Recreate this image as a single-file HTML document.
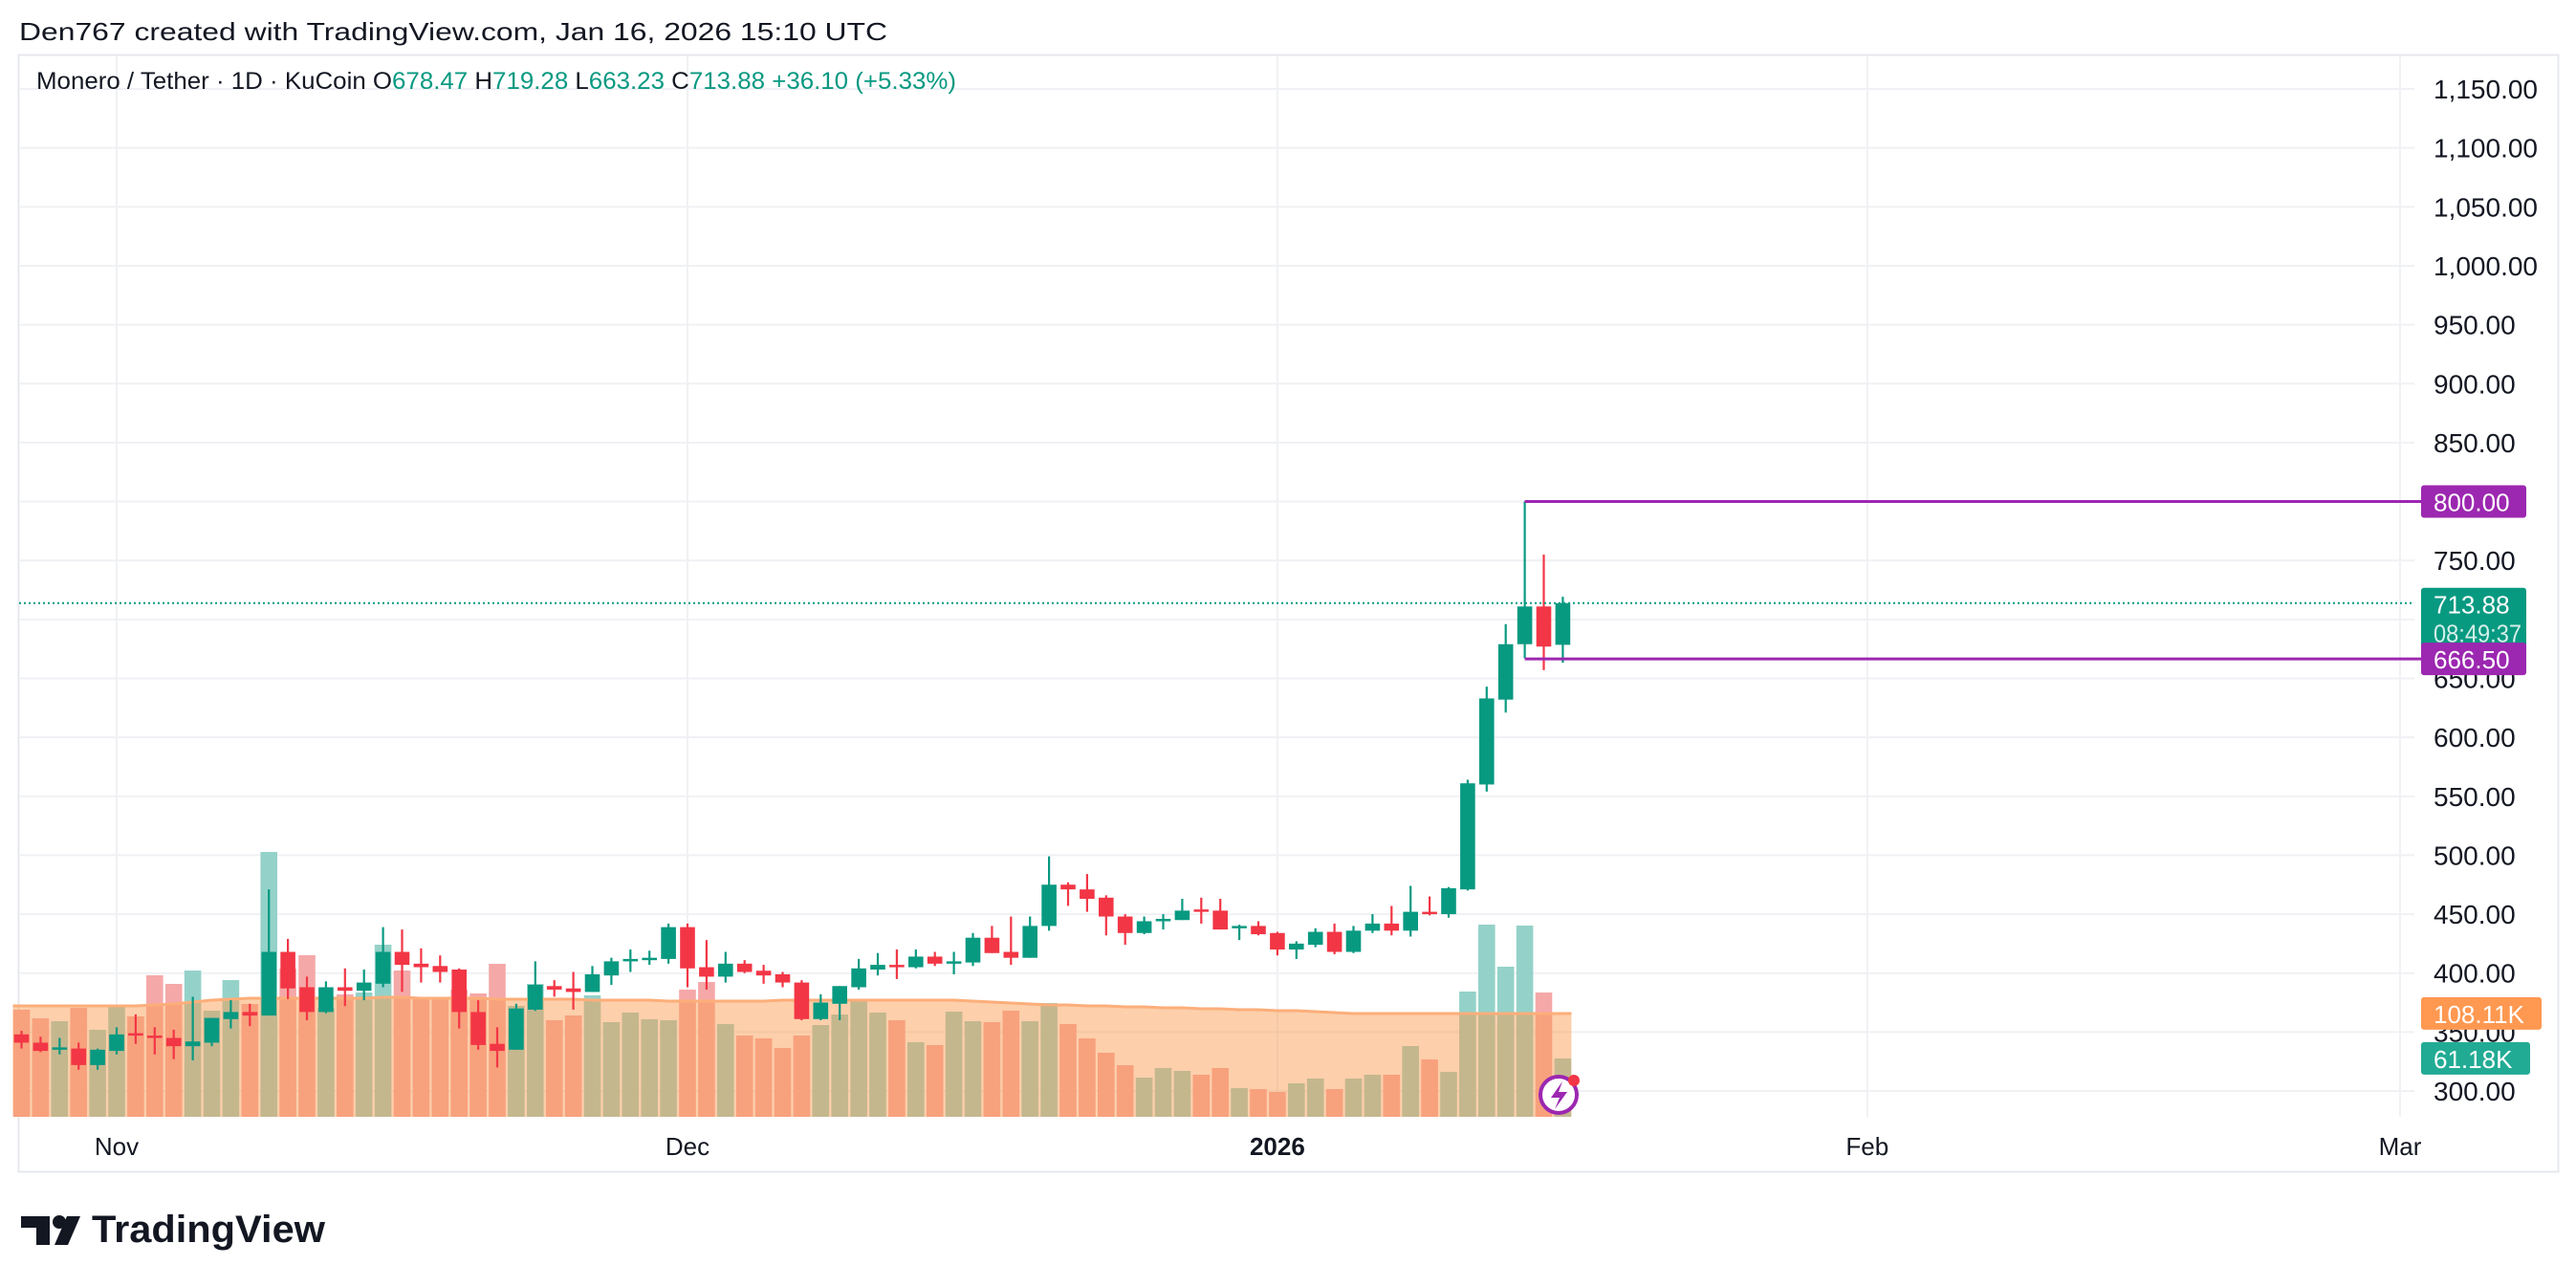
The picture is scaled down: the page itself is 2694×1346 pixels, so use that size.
<!DOCTYPE html>
<html><head><meta charset="utf-8"><style>
html,body{margin:0;padding:0;background:#fff;}
svg{display:block;}
text{font-family:"Liberation Sans",sans-serif;}
</style></head><body>
<svg id="chart" width="2694" height="1346" viewBox="0 0 2694 1346" xmlns="http://www.w3.org/2000/svg">
<rect width="2694" height="1346" fill="#ffffff"/>
<text x="20" y="42" font-size="26" fill="#131722" textLength="908" lengthAdjust="spacingAndGlyphs">Den767 created with TradingView.com, Jan 16, 2026 15:10 UTC</text>
<rect x="19.5" y="57.5" width="2656" height="1168" fill="none" stroke="#e6e8ee" stroke-width="2"/>
<g id="grid"></g>
<g id="volumes"></g>
<g id="ma"></g>
<g id="candles"></g>
<g id="axis"></g>
<g id="overlay"></g>
<text x="38" y="93" font-size="25" fill="#131722" textLength="962" lengthAdjust="spacingAndGlyphs">Monero / Tether · 1D · KuCoin  O<tspan fill="#089981">678.47</tspan>  H<tspan fill="#089981">719.28</tspan>  L<tspan fill="#089981">663.23</tspan>  C<tspan fill="#089981">713.88</tspan>  <tspan fill="#089981">+36.10 (+5.33%)</tspan></text>
<g>
<path d="M22 1272 H52 V1302 H38 V1284 H22 Z" fill="#131722"/>
<circle cx="62" cy="1278" r="7" fill="#131722"/>
<path d="M70 1272 H84 L71 1302 H57 Z" fill="#131722"/>
<text x="96" y="1299" font-size="40" font-weight="bold" fill="#131722" textLength="244" lengthAdjust="spacingAndGlyphs">TradingView</text>
</g>
</svg>
<script>
const opens=[348,341,335,336,322,334,349,347,345,338,341,361,367,364,418,388,367,388,385,391,418,408,406,403,367,340,335,369,389,387,384,398,410,411,412,439,405,397,408,402,399,392,361,374,388,403,407,405,414,409,409,430,418,413,440,475,471,464,448,434,445,445,454,453,438,440,434,420,424,435,418,436,442,436,452,450,471,560,632,679,711,678.47];
const highs=[351,346,345,341,336,354,365,354,352,380,362,377,374,471,429,397,393,404,403,439,437,421,415,404,377,354,374,410,394,401,406,413,420,419,442,442,428,418,411,407,401,394,382,389,412,417,420,420,418,418,434,440,448,448,499,477,484,466,450,448,450,463,464,463,441,444,435,427,438,442,440,450,457,474,465,473,564,643,696,800,755,719.28];
const lows=[336,333,331,318,318,331,340,331,327,326,338,353,355,364,378,360,366,372,377,388,384,392,392,353,335,320,335,368,380,369,384,390,401,407,408,388,386,392,400,391,388,360,360,360,386,398,395,404,406,399,406,417,407,413,436,457,452,432,424,433,437,445,442,437,428,432,415,412,422,416,417,434,432,431,449,447,470,554,621,667,657,663.23];
const closes=[341,334,337,322,335,348,347,345,338,342,362,367,364,418,387,367,388,385,392,418,407,405,401,367,339,334,370,390,386,384,399,410,412,413,439,404,397,408,401,398,392,361,375,389,404,407,405,414,408,410,430,417,413,440,475,471,463,448,434,444,446,453,453,437,440,433,420,425,435,418,436,442,436,452,451,472,561,633,679,711,677,713.88];
const volumes=[112,103,100,114,91,116,105,148,139,153,111,143,118,277,155,169,114,128,130,180,153,123,125,133,129,160,116,139,101,106,127,99,109,102,101,133,141,97,85,82,72,85,96,107,122,109,101,78,75,110,100,99,111,100,119,97,82,67,54,41,51,48,44,51,30,29,26,35,40,29,40,44,44,74,60,47,131,201,157,200,130,61];
const volMA=[116,116,116,116,116,116,116,117,118,120,122,123,124,124,124,124,124,124,124,125,125,124,124,124,124,123,123,123,123,123,122,122,122,122,121,121,121,121,121,121,122,122,122,122,122,122,122,122,122,122,121,120,119,118,117,117,116,116,115,115,114,114,113,113,112,112,111,111,110,109,108,108,108,108,108,108,108,108,108,108,108,108];
const priceTicks=[300,350,400,450,500,550,600,650,700,750,800,850,900,950,1000,1050,1100,1150];
const monthLabels=["Nov","Dec","2026","Feb","Mar"];
const monthDays=[0,30,61,92,120];
const firstDay=-5;
const levelHigh=800, levelLow=666.5, lastPrice=713.88, lastVolume=61.18, lastMA=108.11;

const NS="http://www.w3.org/2000/svg";
const PLOT_L=20, PLOT_R=2525, PLOT_T=58, PLOT_B=1168;
function xDay(d){return 122+d*19.9;}
function yPrice(p){return 1141-(p-300)*1.2329;}
function yVol(v){return 1168-v*1.0;}
function mk(tag,attrs,parent){const e=document.createElementNS(NS,tag);for(const k in attrs)e.setAttribute(k,attrs[k]);parent.appendChild(e);return e;}
const grid=document.getElementById('grid'),vg=document.getElementById('volumes'),mg=document.getElementById('ma'),cg=document.getElementById('candles'),og=document.getElementById('overlay'),ag=document.getElementById('axis');

priceTicks.forEach(p=>{
  const l=mk('line',{x1:PLOT_L,x2:PLOT_R,y1:yPrice(p),y2:yPrice(p),stroke:'#f0f1f4','stroke-width':2},grid);
  
  
  const t=mk('text',{x:2545,y:yPrice(p)+10,'font-size':28,fill:'#131722'},ag);
  t.textContent=p.toLocaleString('en-US',{minimumFractionDigits:2});
  
  
});
monthLabels.forEach((m,i)=>{
  const x=xDay(monthDays[i]);
  const l=mk('line',{x1:x,x2:x,y1:PLOT_T,y2:PLOT_B,stroke:'#f0f1f4','stroke-width':2},grid);
  
  
  const t=mk('text',{x:x,y:1208,'font-size':26,fill:'#131722','text-anchor':'middle','font-weight':m==='2026'?'bold':'normal'},ag);
  t.textContent=m;
  
  
});

opens.forEach((o,i)=>{
  const d=firstDay+i, x=xDay(d), up=closes[i]>=o;
  const r=mk('rect',{x:x-8.8,y:yVol(volumes[i]),width:17.6,height:volumes[i]*1.0,fill:up?'#94d2c9':'#f5a8a8'},vg);
  
  
});
let pts=volMA.map((v,i)=>xDay(firstDay+i)+','+yVol(v));
const x0=xDay(firstDay)-9, x1=xDay(firstDay+volMA.length-1)+9;
const area=mk('polygon',{points:x0+','+yVol(volMA[0])+' '+pts.join(' ')+' '+x1+','+yVol(volMA[volMA.length-1])+' '+x1+',1168 '+x0+',1168',fill:'rgba(251,154,77,0.47)'},mg);


const maLine=mk('polyline',{points:x0+','+yVol(volMA[0])+' '+pts.join(' ')+' '+x1+','+yVol(volMA[volMA.length-1]),fill:'none',stroke:'#fcae7a','stroke-width':3},mg);



opens.forEach((o,i)=>{
  const d=firstDay+i, x=xDay(d), c=closes[i], up=c>=o, col=up?'#089981':'#f23645';
  const g=mk('g',{},cg);
  
  
  mk('line',{x1:x,x2:x,y1:yPrice(highs[i]),y2:yPrice(lows[i]),stroke:col,'stroke-width':2.2},g);
  const top=yPrice(Math.max(o,c)), bot=yPrice(Math.min(o,c));
  mk('rect',{x:x-7.8,y:top,width:15.6,height:Math.max(bot-top,2.5),fill:col},g);
});

const xs=xDay(74);
function tag(y,w,h,fill,lines,name){
  const g=mk('g',{},og);
  
  
  mk('rect',{x:2532,y:y-h/2,width:w,height:h,rx:3,fill:fill},g);
  lines.forEach((s,k)=>{
    const attrs={x:2545,y:y-h/2+27+k*30,'font-size':26,fill:k>0?'#d4efe9':'#fff'};
    if(k>0){attrs.textLength=92;attrs.lengthAdjust='spacingAndGlyphs';}
    const t=mk('text',attrs,g);
    t.textContent=s;
  });
}
const hl=mk('line',{x1:xs,x2:PLOT_R+8,y1:yPrice(levelHigh),y2:yPrice(levelHigh),stroke:'#9c27b0','stroke-width':3},og);


const ll=mk('line',{x1:xs,x2:PLOT_R+8,y1:yPrice(levelLow),y2:yPrice(levelLow),stroke:'#9c27b0','stroke-width':3},og);


const cl=mk('line',{x1:PLOT_L,x2:PLOT_R,y1:yPrice(lastPrice),y2:yPrice(lastPrice),stroke:'#089981','stroke-width':2,'stroke-dasharray':'2 3'},og);


tag(yPrice(levelHigh),110,34,'#9c27b0',[levelHigh.toFixed(2)],'resistance-price-tag');
tag(yPrice(lastPrice)+15,110,62,'#089981',[lastPrice.toFixed(2),'08:49:37'],'last-price-tag');
tag(yPrice(levelLow),110,34,'#9c27b0',[levelLow.toFixed(2)],'support-price-tag');
tag(yVol(lastMA),126,34,'#ff9850',[lastMA.toFixed(2)+'K'],'volume-ma-tag');
tag(yVol(lastVolume),114,34,'#22ab94',[lastVolume.toFixed(2)+'K'],'volume-tag');

const ic=mk('g',{},og);


mk('circle',{cx:1630,cy:1145,r:19,fill:'#fff',stroke:'#9c27b0','stroke-width':4},ic);
mk('path',{d:'M1634 1131 L1622 1148 H1631 L1626 1160 L1639 1142 H1630 Z',fill:'#9c27b0'},ic);
mk('circle',{cx:1646,cy:1130,r:6,fill:'#f23645'},ic);
</script>
</body></html>
